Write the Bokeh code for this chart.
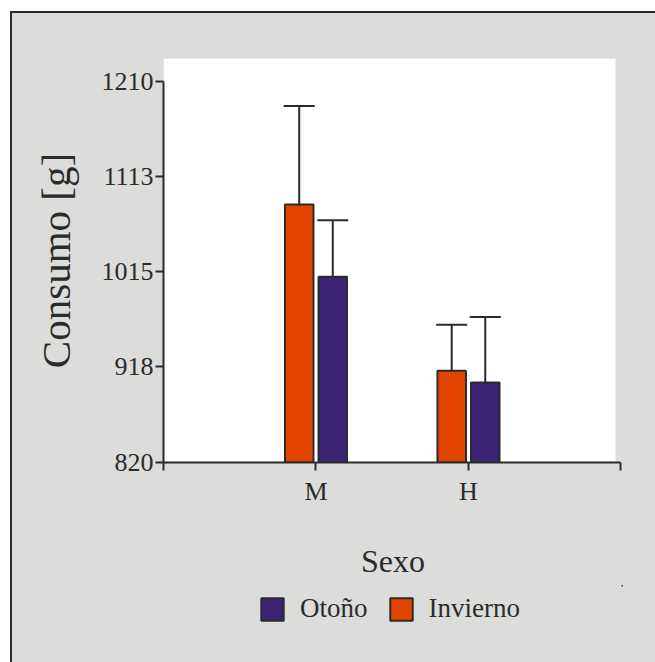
from bokeh.plotting import figure
from bokeh.layouts import column
from bokeh.models import (ColumnDataSource, Range1d, FixedTicker, Whisker, TeeHead,
                          Legend, LegendItem, BoxAnnotation)
from bokeh.embed import file_html
from bokeh.resources import INLINE

# Consumption by sex and season (mean and upper deviation)
sexes = ["M", "H"]
invierno_mean = [1084, 914]
invierno_sd = [101, 47]
otono_mean = [1010, 902]
otono_sd = [58, 67]
y_ticks = [820, 918, 1015, 1113, 1210]

FONT = "Liberation Serif"
INK = "#2b2b2b"
BG = "#dcdcdb"
ORANGE = "#e34400"
PURPLE = "#3c2375"
OFFSET = 0.11
BAR_W = 0.187
W = 643

pos = [i + 1 for i in range(len(sexes))]

src_inv = ColumnDataSource(dict(
    x=[p - OFFSET for p in pos], top=invierno_mean,
    upper=[m + s for m, s in zip(invierno_mean, invierno_sd)]))
src_oto = ColumnDataSource(dict(
    x=[p + OFFSET for p in pos], top=otono_mean,
    upper=[m + s for m, s in zip(otono_mean, otono_sd)]))

p = figure(width=W, height=572,
           x_range=Range1d(0, 3.01), y_range=Range1d(820, 1233.5),
           output_backend="svg", toolbar_location=None,
           min_border_left=151, min_border_top=45,
           min_border_right=33, min_border_bottom=123)

# canvas is transparent; the page container supplies the grey
p.background_fill_alpha = 0
p.border_fill_alpha = 0
p.outline_line_color = None
p.grid.visible = False

# white plotting panel, stopping just short of the x-axis end
p.add_layout(BoxAnnotation(right=452, right_units="screen",
                           fill_color="white", fill_alpha=1,
                           line_color=None, level="underlay"))

r_inv = p.vbar(x="x", top="top", bottom=820, width=BAR_W, source=src_inv,
               fill_color=ORANGE, line_color=INK, line_width=2)
r_oto = p.vbar(x="x", top="top", bottom=820, width=BAR_W, source=src_oto,
               fill_color=PURPLE, line_color=INK, line_width=2)

for src in (src_inv, src_oto):
    w = Whisker(base="x", lower="top", upper="upper", source=src,
                dimension="height", line_color=INK, line_width=2,
                lower_head=None,
                upper_head=TeeHead(size=31, line_color=INK, line_width=2))
    p.add_layout(w)

# axes
xa = p.xaxis[0]
xa.ticker = FixedTicker(ticks=[0] + pos + [len(pos) + 1])
xa.major_label_overrides = {0: "", 1: "M", 2: "H", 3: ""}
xa.bounds = (0, len(pos) + 1)
xa.axis_label = "Sexo"

ya = p.yaxis[0]
ya.ticker = FixedTicker(ticks=y_ticks)
ya.bounds = (y_ticks[0], y_ticks[-1])
ya.axis_label = "Consumo [g]"

for ax in (xa, ya):
    ax.axis_line_color = INK
    ax.axis_line_width = 2
    ax.major_tick_line_color = INK
    ax.major_tick_line_width = 2
    ax.major_tick_out = 8
    ax.major_tick_in = 0
    ax.minor_tick_line_color = None
    ax.major_label_text_font = FONT
    ax.major_label_text_font_size = "26px"
    ax.major_label_text_color = INK
    ax.axis_label_text_font = FONT
    ax.axis_label_text_font_style = "normal"
    ax.axis_label_text_color = INK

xa.axis_label_text_font_size = "32px"
ya.axis_label_text_font_size = "41px"
ya.major_label_standoff = 2
ya.axis_label_standoff = 20
xa.major_label_standoff = 6
xa.axis_label_standoff = 34

# legend strip underneath the chart (swatch glyphs fall outside its ranges)
lg = figure(width=W, height=77, x_range=Range1d(-2, -1), y_range=Range1d(0, 1),
            output_backend="svg", toolbar_location=None,
            x_axis_location=None, y_axis_location=None,
            min_border_left=151, min_border_right=33,
            min_border_top=0, min_border_bottom=0)
lg.background_fill_alpha = 0
lg.border_fill_alpha = 0
lg.outline_line_color = None
lg.grid.visible = False
k_oto = lg.vbar(x="x", top="top", bottom=820, width=BAR_W, source=src_oto,
                fill_color=PURPLE, line_color=INK, line_width=2)
k_inv = lg.vbar(x="x", top="top", bottom=820, width=BAR_W, source=src_inv,
                fill_color=ORANGE, line_color=INK, line_width=2)

legend = Legend(items=[LegendItem(label="Otoño", renderers=[k_oto]),
                       LegendItem(label="Invierno", renderers=[k_inv])],
                orientation="horizontal", location=(95, 38),
                border_line_color=None, background_fill_alpha=0,
                label_text_font=FONT, label_text_font_size="27px",
                label_text_color=INK, glyph_width=28, glyph_height=28,
                label_standoff=14, spacing=19, padding=0, margin=0)
lg.add_layout(legend, "center")

page = column(p, lg, spacing=0)
page.styles = {"margin-left": "10px", "margin-top": "11px",
               "background-color": BG,
               "border-left": "2px solid #2a2a2a", "border-top": "2px solid #2a2a2a"}

open("out.html", "w").write(file_html(page, INLINE))
